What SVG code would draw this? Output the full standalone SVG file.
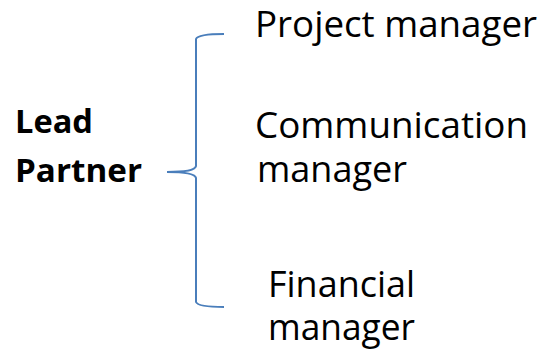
<svg xmlns="http://www.w3.org/2000/svg" width="542" height="356" viewBox="0 0 542 356">
<style>
text{font-family:"Open Sans","Liberation Sans",sans-serif;fill:#000}
.r{font-size:37px}
.b{font-size:33px;font-weight:bold}
.brace{fill:none;stroke:#4a7ebb;stroke-width:2}
</style>
<rect width="542" height="356" fill="#fff"/>
<g id="connectors">
<path class="brace" d="M224,34 Q198,34 196,39 L196,166 Q195,172 167,172 Q195,172 196,178 L196,302 Q198,307 224,307"/>
</g>
<g id="lead-partner"><text class="b" x="15" y="133" textLength="78" lengthAdjust="spacingAndGlyphs">Lead</text><text class="b" x="15" y="182" textLength="127" lengthAdjust="spacingAndGlyphs">Partner</text></g>
<g id="project-manager"><text class="r" x="255" y="37" textLength="282" lengthAdjust="spacingAndGlyphs">Project manager</text></g>
<g id="communication-manager"><text class="r" x="255" y="138" textLength="273" lengthAdjust="spacingAndGlyphs">Communication</text><text class="r" x="257" y="182" textLength="150" lengthAdjust="spacingAndGlyphs">manager</text></g>
<g id="financial-manager"><text class="r" x="268" y="297" textLength="147" lengthAdjust="spacingAndGlyphs">Financial</text><text class="r" x="268" y="340" textLength="147" lengthAdjust="spacingAndGlyphs">manager</text></g>
</svg>
